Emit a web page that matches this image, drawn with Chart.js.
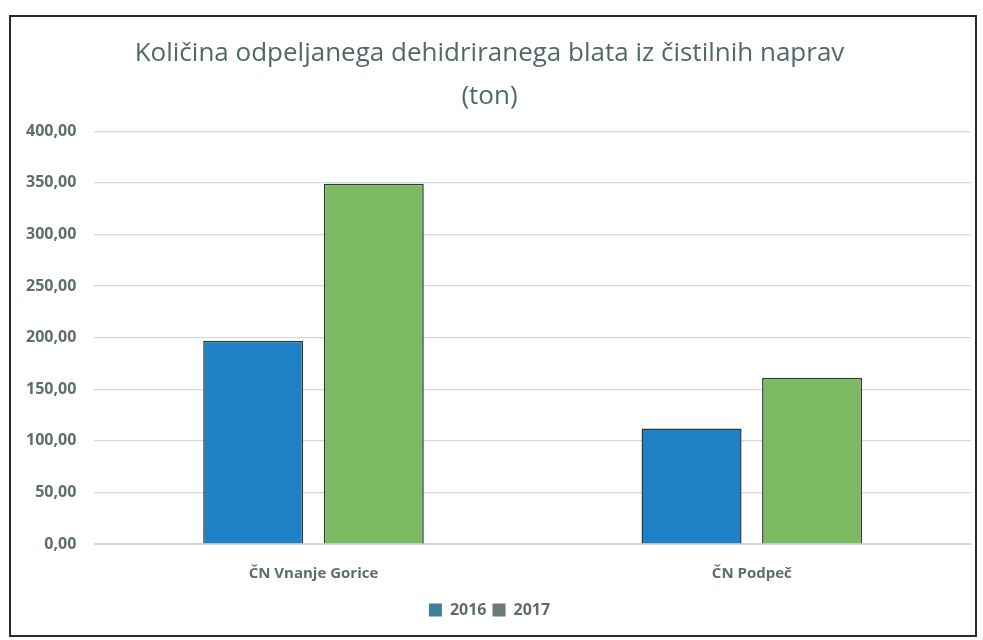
<!DOCTYPE html>
<html>
<head>
<meta charset="utf-8">
<script src="https://cdn.jsdelivr.net/npm/chart.js@4.4.0/dist/chart.umd.min.js"></script>
<style>
  body { margin: 0; background: #fff; }
  #wrap { position: absolute; left: 0; top: 0; width: 983px; height: 640px; }
  #frame { position: absolute; left: 9px; top: 15px; width: 964px; height: 618px; border: 2px solid #2a2a2a; pointer-events: none; }
</style>
</head>
<body>
<div id="wrap">
  <canvas id="chart" width="983" height="640"></canvas>
  <div id="frame"></div>
</div>
<script>
// podatki
var categories = ['ČN Vnanje Gorice', 'ČN Podpeč'];
var seriesNames = ['2016', '2017'];
var values2016 = [197, 112];
var values2017 = [349, 161];
var yTicks = [0, 50, 100, 150, 200, 250, 300, 350, 400];

var textColor = '#5d6e6b';
var barColors = ['#1f80c6', '#7cb963'];
var legendColors = ['#3f7f99', '#6c7a73'];

var ctx = document.getElementById('chart');
var myChart = new Chart(ctx, {
    type: 'bar',
    data: {
        labels: categories,
        datasets: [{
            label: seriesNames[0],
            data: values2016,
            backgroundColor: barColors[0],
            borderColor: '#2b3a3a',
            borderWidth: 1.5,
            categoryPercentage: 0.55,
            barPercentage: 0.83
        }, {
            label: seriesNames[1],
            data: values2017,
            backgroundColor: barColors[1],
            borderColor: '#2f3a30',
            borderWidth: 1.5,
            categoryPercentage: 0.55,
            barPercentage: 0.83
        }]
    },
    options: {
        responsive: false,
        animation: false,
        layout: {
            padding: { left: 8, right: 12, top: 33, bottom: 12 }
        },
        plugins: {
            title: {
                display: true,
                text: ['Količina odpeljanega dehidriranega blata iz čistilnih naprav', '(ton)'],
                color: '#4f6a68',
                font: { family: 'Open Sans', size: 26, weight: 'normal', lineHeight: 1.62 },
                padding: { top: 0, bottom: 14 }
            },
            legend: {
                position: 'bottom',
                labels: {
                    color: textColor,
                    font: { family: 'Open Sans', size: 16, weight: 'bold' },
                    boxWidth: 13,
                    boxHeight: 13,
                    padding: 6,
                    generateLabels: function(chart) {
                        return chart.data.datasets.map(function(ds, i) {
                            return {
                                text: ds.label,
                                fillStyle: legendColors[i],
                                strokeStyle: legendColors[i],
                                lineWidth: 0,
                                fontColor: textColor,
                                datasetIndex: i
                            };
                        });
                    }
                }
            },
            tooltip: { enabled: false }
        },
        scales: {
            x: {
                grid: { display: false },
                border: { display: true, color: '#d3dbda', width: 1 },
                ticks: {
                    color: textColor,
                    font: { family: 'Open Sans', size: 15, weight: 'bold' },
                    padding: 13
                }
            },
            y: {
                min: 0,
                max: 400,
                afterBuildTicks: function(axis) {
                    axis.ticks = yTicks.map(function(v) { return { value: v }; });
                },
                grid: { color: '#d3dbda', lineWidth: 1.2, drawTicks: false },
                border: { display: false },
                ticks: {
                    color: textColor,
                    font: { family: 'Open Sans', size: 16, weight: 'bold' },
                    padding: 18,
                    callback: function(value) {
                        return value.toFixed(2).replace('.', ',');
                    }
                }
            }
        }
    }
});
</script>
</body>
</html>
